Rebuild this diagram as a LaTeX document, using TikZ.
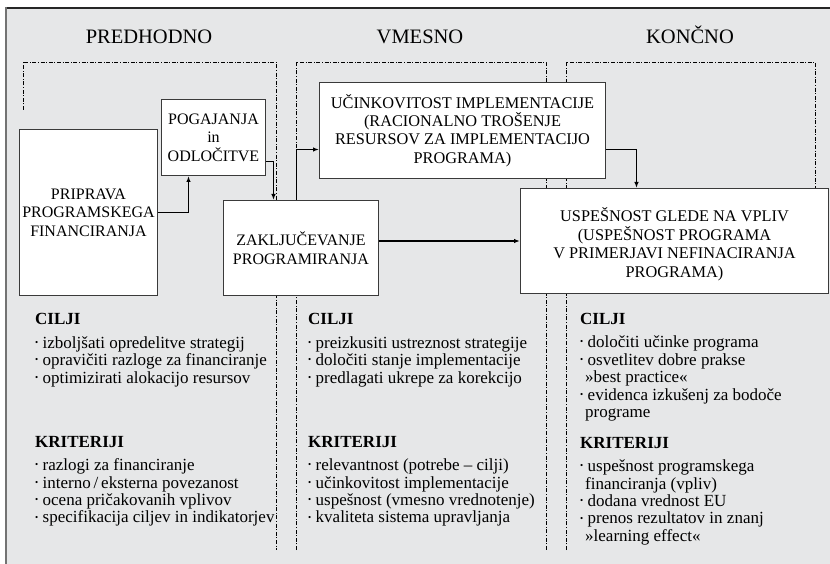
\documentclass[tikz,border=0pt]{standalone}
\usepackage{fontspec}
\setmainfont{Liberation Serif}
\usetikzlibrary{arrows.meta}
\definecolor{panel}{HTML}{E6E7E8}
\definecolor{edge}{HTML}{3A3A3A}
% keep line distances fixed even with accented capitals
\lineskiplimit=-20pt
\lineskip=0pt
% small raised bullet used in the lists
\newcommand\bl{\makebox[7.5pt][l]{\raisebox{0.17em}{\fontsize{9}{9}\selectfont\textbullet}}}
\newcommand\cont{\hspace*{5pt}}
\begin{document}
\begin{tikzpicture}[x=1pt,y=-1pt,
  frame/.style={line width=0.7pt, dash pattern=on 4pt off 1.6pt on 1pt off 1.6pt},
  stagebox/.style={draw=edge, line width=1pt, fill=white, inner sep=0pt, align=center,
    font=\fontsize{16}{18.5}\selectfont},
  boxtext/.style={inner sep=0pt, align=center,
    font=\fontsize{16.3}{18.5}\selectfont},
  flow/.style={line width=1.3pt, -{Latex[length=6pt,width=4.5pt]}},
  phase/.style={inner sep=0pt, anchor=base, font=\fontsize{20.5}{24}\selectfont},
  listtext/.style={anchor=north west, align=left, inner sep=0pt,
    font=\fontsize{17}{17.4}\selectfont}
]
\useasboundingbox (0,0) rectangle (830,564);

% panel
\fill[panel] (5,8) rectangle (830,564);
\draw[line width=2pt, black!85] (5,8) -- (830,8);
\draw[line width=1.8pt, black!55] (6,7) -- (6,564);

% phase titles
\node[phase] (pre) at (149,44) {PREDHODNO};
\node[phase] (mid) at (420,44) {VMESNO};
\node[phase] (post) at (690,44) {KONČNO};

% dash-dotted phase frames
\draw[frame] (23,110) -- (23,62) -- (276,62) -- (276,550);
\draw[frame] (296,550) -- (296,62) -- (546,62) -- (546,550);
\draw[frame] (566,550) -- (566,62) -- (815,62) -- (815,188);

% stage boxes
\node[stagebox, anchor=north west, minimum width=138pt, minimum height=166pt] (prip) at (19,129)
  {PRIPRAVA\\PROGRAMSKEGA\\FINANCIRANJA};
\node[stagebox, anchor=north west, minimum width=104pt, minimum height=76pt] (pog) at (161,99)
  {POGAJANJA\\in\\ODLOČITVE};
\node[stagebox, anchor=north west, minimum width=155pt, minimum height=95pt] (zak) at (223,200)
  {ZAKLJUČEVANJE\\PROGRAMIRANJA};
\node[stagebox, anchor=north west, minimum width=286pt, minimum height=96pt,
  font=\fontsize{16.3}{18.3}\selectfont] (uci) at (319,82)
  {UČINKOVITOST IMPLEMENTACIJE\\(RACIONALNO TROŠENJE\\RESURSOV ZA IMPLEMENTACIJO\\PROGRAMA)};
\node[stagebox, anchor=north west, minimum width=308pt, minimum height=105pt] (usp) at (520,188) {};
\node[boxtext] (usptext) at ([yshift=-3pt]usp.center)
  {USPEŠNOST GLEDE NA VPLIV\\(USPEŠNOST PROGRAMA\\V PRIMERJAVI NEFINACIRANJA\\PROGRAMA)};

% connectors
\draw[flow] (prip.east) -| ([xshift=-25pt]pog.south);
\draw[flow] ([yshift=-24pt]pog.east) -| ([xshift=-27.5pt]zak.north);
\draw[flow] ([xshift=-4.5pt]zak.north) |- ([yshift=-19pt]uci.west);
\draw[flow] (zak.east |- usp.west) -- (usp.west);
\draw[flow] ([yshift=-19pt]uci.east) -| ([xshift=-38pt]usp.north);

% goals and criteria
\node[listtext] (goalsA) at (35,313) {\textbf{CILJI}\\[6.5pt]
  \bl izboljšati opredelitve strategij\\
  \bl opravičiti razloge za financiranje\\
  \bl optimizirati alokacijo resursov};
\node[listtext] (critA) at (35,436) {\textbf{KRITERIJI}\\[6pt]
  \bl razlogi za financiranje\\
  \bl interno\,/\,eksterna povezanost\\
  \bl ocena pričakovanih vplivov\\
  \bl specifikacija ciljev in indikatorjev};

\node[listtext] (goalsB) at (308,313) {\textbf{CILJI}\\[6.5pt]
  \bl preizkusiti ustreznost strategije\\
  \bl določiti stanje implementacije\\
  \bl predlagati ukrepe za korekcijo};
\node[listtext] (critB) at (308,436) {\textbf{KRITERIJI}\\[6pt]
  \bl relevantnost (potrebe – cilji)\\
  \bl učinkovitost implementacije\\
  \bl uspešnost (vmesno vrednotenje)\\
  \bl kvaliteta sistema upravljanja};

\node[listtext] (goalsC) at (580,313) {\textbf{CILJI}\\[6pt]
  \bl določiti učinke programa\\
  \bl osvetlitev dobre prakse\\
  \cont »best practice«\\
  \bl evidenca izkušenj za bodoče\\
  \cont programe};
\node[listtext] (critC) at (580,437) {\textbf{KRITERIJI}\\[6pt]
  \bl uspešnost programskega\\
  \cont financiranja (vpliv)\\
  \bl dodana vrednost EU\\
  \bl prenos rezultatov in znanj\\
  \cont »learning effect«};
\end{tikzpicture}
\end{document}
